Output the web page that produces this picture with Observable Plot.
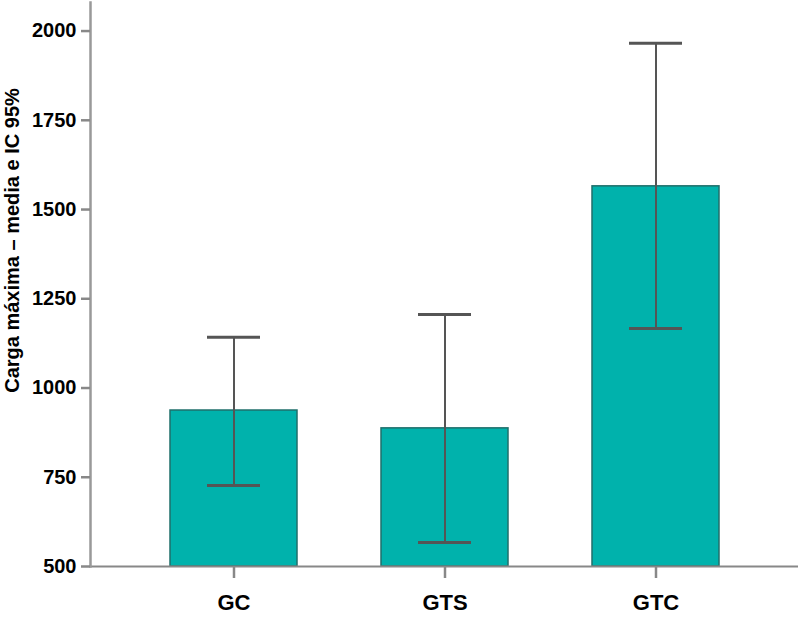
<!DOCTYPE html>
<html>
<head>
<meta charset="utf-8">
<script src="https://cdn.jsdelivr.net/npm/d3@7"></script>
<script src="https://cdn.jsdelivr.net/npm/@observablehq/plot@0.6"></script>
<style>
  html, body { margin: 0; padding: 0; background: #fff; }
  svg { display: block; }
  g[aria-label="y-axis tick label"] { font-size: 20px; font-weight: bold; fill: #000; }
  g[aria-label="x-axis tick label"] { font-size: 22px; font-weight: bold; fill: #000; }
</style>
</head>
<body>
<div id="chart"></div>
<script>
const groups = ["GC", "GTS", "GTC"];
const means = [937, 887, 1565];
const ciLower = [727, 567, 1167];
const ciUpper = [1142, 1206, 1966];
const yTicks = [500, 750, 1000, 1250, 1500, 1750, 2000];
const yLabel = "Carga máxima – media e IC 95%";

const data = groups.map((g, i) => ({group: g, mean: means[i], lo: ciLower[i], hi: ciUpper[i]}));

const font = "Liberation Sans, Arial, Helvetica, sans-serif";

const plot = Plot.plot({
  width: 800,
  height: 618,
  marginLeft: 90,
  marginRight: 2,
  marginTop: 2,
  marginBottom: 52,
  style: {fontFamily: font, background: "#fff"},
  x: {domain: groups, paddingInner: 0.4, paddingOuter: 0.37, label: null},
  y: {domain: [500, 2080], label: null},
  marks: [
    Plot.barY(data, {x: "group", y1: 500, y2: "mean", fill: "#00b2ac", stroke: "#1f6f6b", strokeWidth: 1.5}),
    Plot.ruleX(data, {x: "group", y1: "lo", y2: "hi", stroke: "#555", strokeWidth: 2}),
    Plot.tickY(data, {x: "group", y: "lo", stroke: "#555", strokeWidth: 3, insetLeft: 37, insetRight: 37}),
    Plot.tickY(data, {x: "group", y: "hi", stroke: "#555", strokeWidth: 3, insetLeft: 37, insetRight: 37}),
    Plot.ruleY([500], {stroke: "#888", strokeWidth: 2}),
    Plot.frame({anchor: "left", stroke: "#999", strokeWidth: 2.5}),
    Plot.axisY({ticks: yTicks, tickFormat: d => String(d), tickSize: 9, tickPadding: 5, stroke: "#888", strokeWidth: 2.5, label: null}),
    Plot.axisX({tickSize: 12, tickPadding: 16, stroke: "#888", strokeWidth: 2.5, label: null}),
    Plot.text([yLabel], {text: d => d, frameAnchor: "left", textAnchor: "middle", rotate: -90, dx: -78, dy: -44, fontSize: 20, fontWeight: "bold", fill: "#000"})
  ]
});

document.getElementById("chart").appendChild(plot);
</script>
</body>
</html>
